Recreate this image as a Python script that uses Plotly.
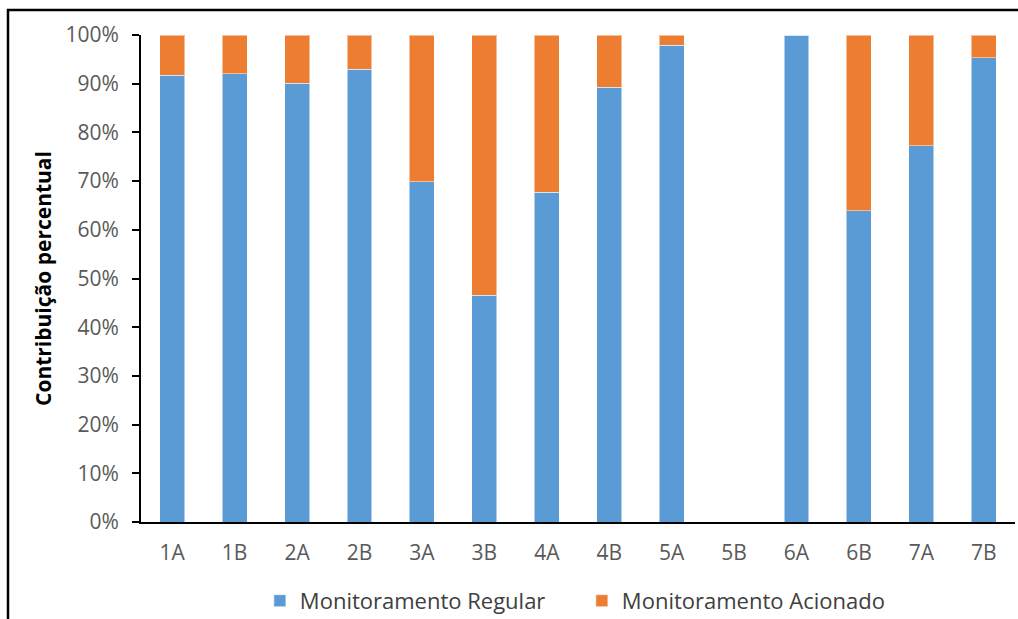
import plotly.graph_objects as go

# Share of each monitoring type per site (percent of total)
sites = ["1A", "1B", "2A", "2B", "3A", "3B", "4A", "4B", "5A", "5B", "6A", "6B", "7A", "7B"]
regular = [91.7, 92.0, 90.1, 93.0, 69.9, 46.6, 67.7, 89.3, 97.9, None, 100.0, 63.9, 77.3, 95.3]
triggered = [None if r is None else round(100 - r, 1) for r in regular]
y_ticks = [0, 10, 20, 30, 40, 50, 60, 70, 80, 90, 100]
y_labels = [f"{v}%" for v in y_ticks]

FONT = "Open Sans"
TICK_COLOR = "#595959"

fig = go.Figure()
fig.add_trace(go.Bar(
    x=sites, y=regular, name="Monitoramento Regular",
    marker=dict(color="#5B9BD5", line=dict(color="rgba(255,255,255,0.5)", width=1)),
))
fig.add_trace(go.Bar(
    x=sites, y=triggered, name="Monitoramento Acionado",
    marker=dict(color="#ED7D31", line=dict(color="rgba(255,255,255,0.5)", width=1)),
))

fig.update_layout(
    barmode="stack",
    bargap=0.6,
    width=1018, height=619,
    margin=dict(l=141, r=3, t=35, b=97, autoexpand=False),
    paper_bgcolor="white", plot_bgcolor="white",
    font=dict(family=FONT, color=TICK_COLOR, size=21),
    showlegend=True,
    legend=dict(
        orientation="h", x=0.136, xanchor="left", y=-0.162, yanchor="middle",
        font=dict(family=FONT, size=22, color="#404040"),
        itemwidth=30, traceorder="normal",
        entrywidth=277, entrywidthmode="pixels",
    ),
    xaxis=dict(
        showline=True, linecolor="black", linewidth=2,
        ticks="", tickfont=dict(size=21, color=TICK_COLOR),
        ticklabelstandoff=11,
        showgrid=False,
    ),
    yaxis=dict(
        range=[0, 100], tickvals=y_ticks, ticktext=y_labels,
        showline=True, linecolor="black", linewidth=2,
        ticks="outside", ticklen=7, tickwidth=2, tickcolor="black",
        tickfont=dict(size=21, color=TICK_COLOR),
        ticklabelstandoff=9,
        showgrid=False, zeroline=False,
        title=dict(text="<b>Contribuição percentual</b>",
                   font=dict(family=FONT, size=21, color="black"), standoff=8),
    ),
)

# Black frame around the chart area
fig.add_shape(
    type="rect", xref="paper", yref="paper",
    x0=(8 - 141) / 874, x1=1.2, y0=-0.5, y1=1 + 25 / 487,
    line=dict(color="black", width=2.5), fillcolor="rgba(0,0,0,0)", layer="above",
)

fig.write_html("out.html")
